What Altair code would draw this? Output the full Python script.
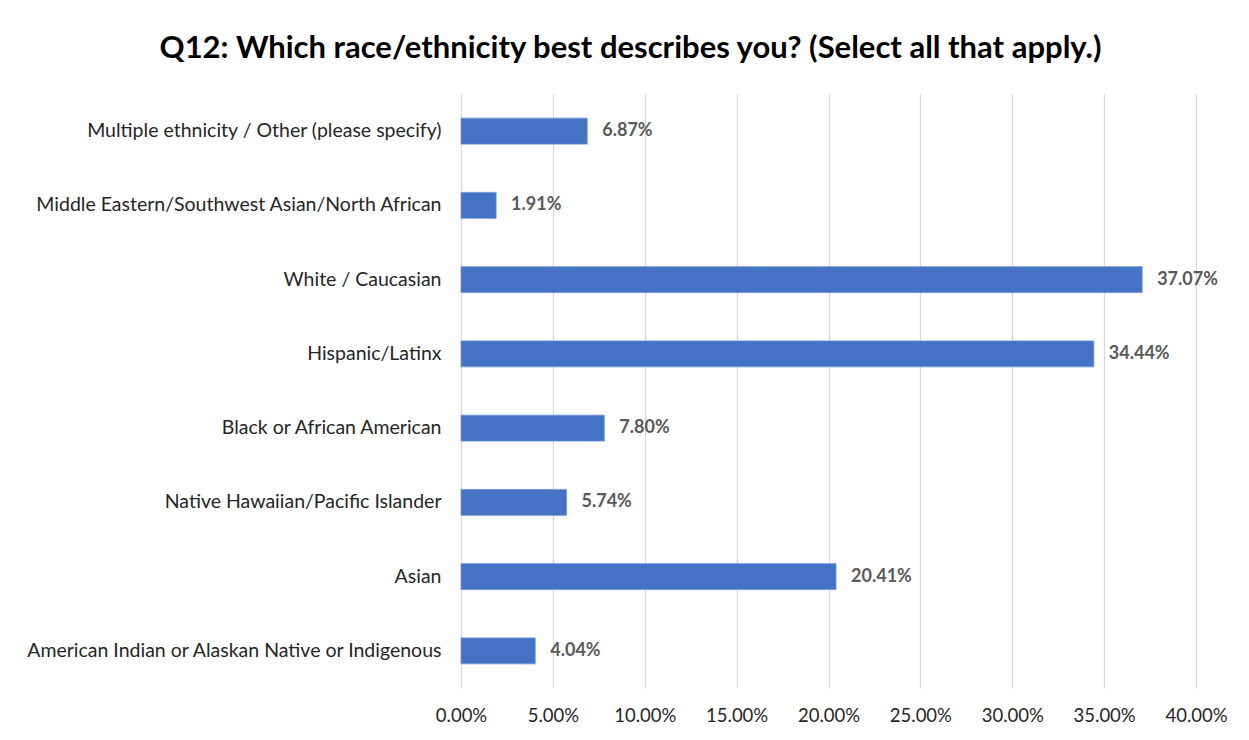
import altair as alt
import pandas as pd

categories = [
    "Multiple ethnicity / Other (please specify)",
    "Middle Eastern/Southwest Asian/North African",
    "White / Caucasian",
    "Hispanic/Latinx",
    "Black or African American",
    "Native Hawaiian/Pacific Islander",
    "Asian",
    "American Indian or Alaskan Native or Indigenous",
]
values = [6.87, 1.91, 37.07, 34.44, 7.80, 5.74, 20.41, 4.04]
tick_values = [0, 5, 10, 15, 20, 25, 30, 35, 40]

df = pd.DataFrame({"cat": categories, "val": [v / 100 for v in values]})
df["label"] = [f"{v:.2f}%" for v in values]

FONT = "Lato"

y = alt.Y("cat:N", sort=categories, title=None,
          scale=alt.Scale(paddingInner=0.65, paddingOuter=0.325),
          axis=alt.Axis(labelFont=FONT, labelFontSize=19.5, labelColor="#262626",
                        labelPadding=20, ticks=False, domain=False, labelLimit=600))
x = alt.X("val:Q", title=None,
          scale=alt.Scale(domain=[0, 0.4], nice=False),
          axis=alt.Axis(values=[t / 100 for t in tick_values], format=".2%",
                        labelFont=FONT, labelFontSize=18.5, labelColor="#262626",
                        labelPadding=18, ticks=False, domain=False,
                        labelOverlap=False, labelFlush=False,
                        gridColor="#d9d9d9", gridWidth=1.3))

bars = alt.Chart(df).mark_bar(color="#4472C4", stroke="#6f93d6", strokeWidth=0.8).encode(x=x, y=y)
labels = alt.Chart(df).mark_text(align="left", dx=15, font=FONT, fontSize=18,
                                 fontWeight="bold", color="#595959").encode(
    x="val:Q", y=alt.Y("cat:N", sort=categories), text="label:N")

chart = (bars + labels).properties(
    width=735, height=594,
    background="white",
    autosize=alt.AutoSizeParams(type="none"),
    padding={"left": 453, "top": 86, "right": 45, "bottom": 40},
    title=alt.TitleParams(
        "Q12: Which race/ethnicity best describes you? (Select all that apply.)",
        font=FONT, fontSize=31, fontWeight="bold", color="#000000",
        anchor="middle", dx=-198, offset=29),
).configure_view(strokeWidth=0)

chart.save("out.html", embed_options={"renderer": "svg", "actions": False})
